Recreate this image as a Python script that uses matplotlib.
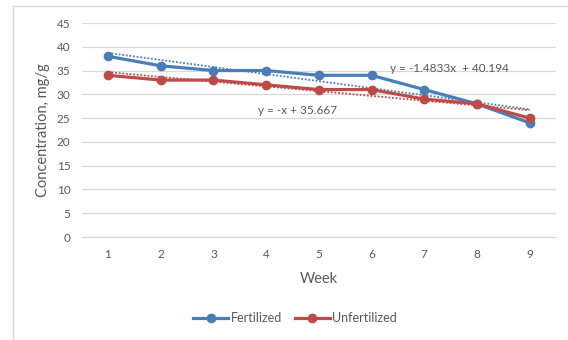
import matplotlib
matplotlib.use("Agg")
import matplotlib.pyplot as plt
import numpy as np
from matplotlib.patches import Rectangle

weeks = [1, 2, 3, 4, 5, 6, 7, 8, 9]
fertilized = [38, 36, 35, 35, 34, 34, 31, 28, 24]
unfertilized = [34, 33, 33, 32, 31, 31, 29, 28, 25]
series_names = ["Fertilized", "Unfertilized"]
eq_fert = "y = -1.4833x  + 40.194"
eq_unfert = "y = -x + 35.667"

plt.rcParams['font.family'] = ['Lato', 'DejaVu Sans']
W, H = 568, 340
fig = plt.figure(figsize=(W/100, H/100), dpi=100)
fig.patch.set_facecolor('white')
fig.add_artist(Rectangle((13/W, -0.01), 1.0, 1 - 6/H + 0.01, transform=fig.transFigure,
                         fill=False, edgecolor='#d9d9d9', lw=1.0))

ax = fig.add_axes([81.6/W, 1 - 237/H, (556 - 81.6)/W, (237 - 23)/H])
blue = '#4a7ebb'
red = '#be4b48'

x = np.array(weeks)
for ys, c in [(fertilized, blue), (unfertilized, red)]:
    m, b = np.polyfit(x, ys, 1)
    ax.plot(x, m*x + b, color=c, lw=1.3, ls=(0, (1, 1)), zorder=2)

ax.plot(weeks, fertilized, color=blue, lw=2.3, marker='o', ms=6, label=series_names[0], zorder=3)
ax.plot(weeks, unfertilized, color=red, lw=2.3, marker='o', ms=6, label=series_names[1], zorder=3)

ax.set_xlim(0.5, 9.5)
ax.set_ylim(0, 45)
ax.set_yticks(range(0, 46, 5))
ax.set_xticks(weeks)
ax.grid(axis='y', color='#d9d9d9', lw=0.9)
ax.set_axisbelow(True)
for s in ['top', 'right', 'left']:
    ax.spines[s].set_visible(False)
ax.spines['bottom'].set_color('#d9d9d9')
ax.tick_params(axis='both', length=0, labelsize=8.5, colors='#595959')
ax.tick_params(axis='x', pad=9)
ax.tick_params(axis='y', pad=8)

ax.set_xlabel("Week", fontsize=10.5, color='#595959', labelpad=8)
ax.set_ylabel("Concentration, mg/g", fontsize=10.5, color='#595959', labelpad=5)

ax.text(6.35, 35.5, eq_fert, fontsize=8.5, color='#595959', va='center', ha='left')
ax.text(3.85, 26.7, eq_unfert, fontsize=8.5, color='#595959', va='center', ha='left')

leg = fig.legend(loc='center', bbox_to_anchor=(295/W, 1 - 318/H), ncol=2, frameon=False,
                 fontsize=9, handlelength=2.8, columnspacing=1.0, handletextpad=0.2,
                 labelcolor='#595959')

fig.savefig("out.png", dpi=100)
